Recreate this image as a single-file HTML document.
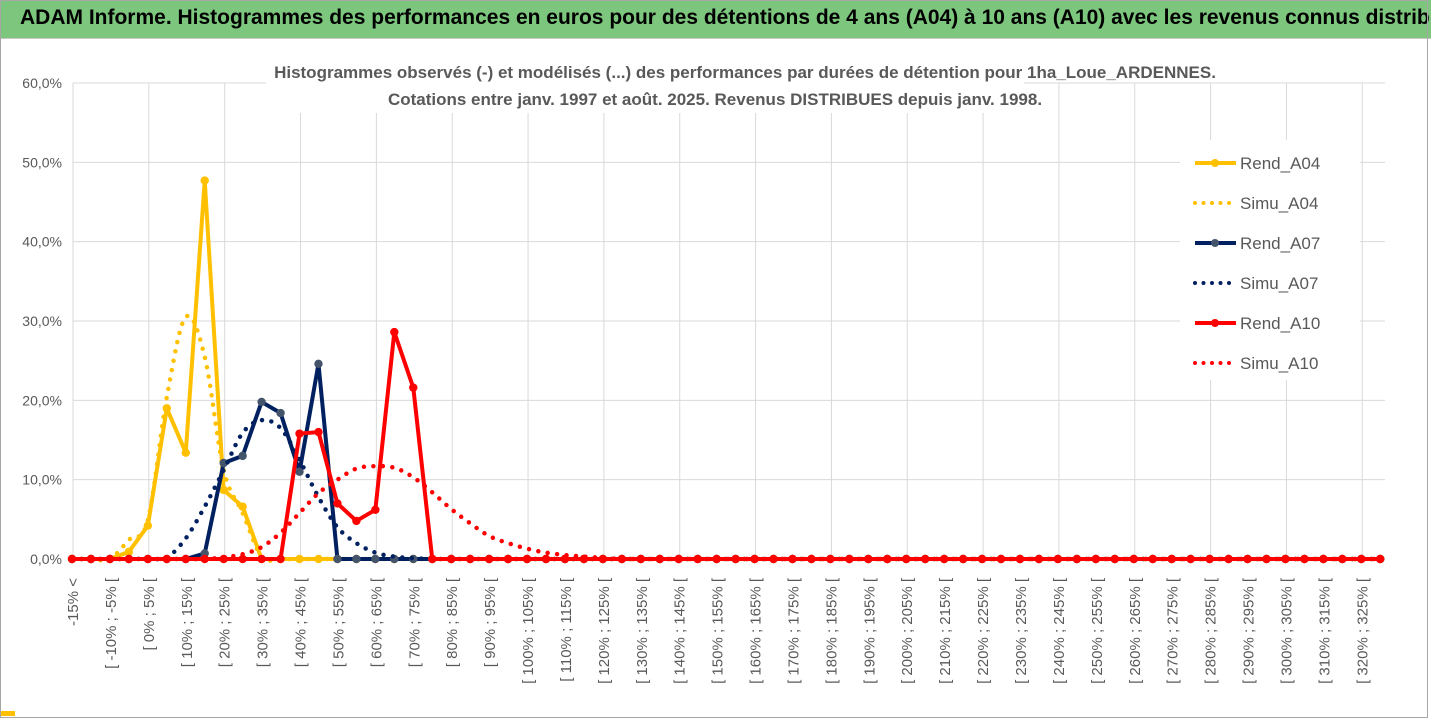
<!DOCTYPE html>
<html><head><meta charset="utf-8"><style>
body{margin:0;background:#fff;}
#wrap{position:relative;width:1431px;height:719px;overflow:hidden;background:#fff;font-family:"Liberation Sans Narrow","Liberation Sans",sans-serif;}
#bar{position:absolute;left:0;top:0;width:1431px;height:38px;background:#7dc67d;border-bottom:1px solid #c8c8c8;}
#bar span{position:absolute;left:20px;top:6px;font-size:21px;font-weight:bold;color:#000;white-space:nowrap;}
</style></head><body>
<div id="wrap">
<div id="bar"><span>ADAM Informe. Histogrammes des performances en euros pour des détentions de 4 ans (A04) à 10 ans (A10) avec les revenus connus distribués</span></div>
<svg id="chart" width="1431" height="719" style="position:absolute;left:0;top:0"></svg>
</div>
<script>
const rendA04=[0,0,0,0.9,4.2,19.0,13.4,47.7,8.7,6.6,0];
const simuA04=[0,0,0,2.4,4.9,20.4,30.5,25.5,11.2,5.8,0.3];
const rendA07=[0,0,0,0,0,0,0,0.7,12.1,13.0,19.8,18.4,11.0,24.6,0];
const simuA07=[0,0,0,0,0.05,0.2,2.6,6.6,11.2,15.9,17.5,16.5,12.5,7.8,4.0,2.0,0.8,0.3,0.1,0];
const rendA10=[0,0,0,0,0,0,0,0,0,0,0,0,15.8,16.0,7.0,4.8,6.2,28.6,21.6,0];
const simuA10=[0,0,0,0,0,0,0,0,0.2,0.6,1.5,3.3,5.8,8.3,10.0,11.4,11.7,11.5,10.3,8.4,6.3,4.5,2.9,2.0,1.3,0.8,0.5,0.3,0.15,0];
const yTicks=[0,10,20,30,40,50,60];
const NCAT=70;
function catLabel(i){if(i===0)return "-15% <";const a=(i-4)*5,b=(i-3)*5;return "[ "+a+"% ; "+b+"% [";}
const svg=document.getElementById('chart');const NS="http://www.w3.org/2000/svg";
const X=i=>72+i*18.96;const Y=v=>559-v*(476/60);
function mk(t,a,p){const e=document.createElementNS(NS,t);for(const k in a)e.setAttribute(k,a[k]);(p||svg).appendChild(e);return e;}
function full(arr){const r=[];for(let i=0;i<NCAT;i++)r.push(i<arr.length?arr[i]:0);return r;}
// gridlines
const grid=mk('g',{});


yTicks.forEach(t=>{mk('line',{x1:73,x2:1385,y1:Y(t),y2:Y(t),stroke:'#d9d9d9','stroke-width':1},grid);
const lb=mk('text',{x:62,y:Y(t)+5,'text-anchor':'end','font-size':14,fill:'#595959'});lb.textContent=t.toFixed(1).replace('.',',')+'%';

});
for(let i=0;i<NCAT;i+=4){mk('line',{x1:X(i)+1,x2:X(i)+1,y1:Y(60),y2:559,stroke:'#d9d9d9','stroke-width':1},grid);}
// x labels
for(let i=0;i<NCAT;i+=2){const tx=mk('text',{transform:`translate(${X(i)+6},578) rotate(-90)`,'text-anchor':'end','font-size':15,fill:'#595959'});tx.textContent=catLabel(i);

}
// subtitle bg
mk('rect',{x:266,y:55,width:758,height:58,fill:'#fff'});
const st1=mk('text',{x:745,y:78,'text-anchor':'middle','font-size':17,'font-weight':'bold',fill:'#595959'});st1.textContent="Histogrammes observés (-) et modélisés (...) des performances par durées de détention pour 1ha_Loue_ARDENNES.";


const st2=mk('text',{x:715,y:105,'text-anchor':'middle','font-size':17,'font-weight':'bold',fill:'#595959'});st2.textContent="Cotations entre janv. 1997 et août. 2025. Revenus DISTRIBUES depuis janv. 1998.";


function smooth(pts){let d=`M${pts[0][0]},${pts[0][1]}`;for(let i=0;i<pts.length-1;i++){const p0=pts[Math.max(i-1,0)],p1=pts[i],p2=pts[i+1],p3=pts[Math.min(i+2,pts.length-1)];
const c1=[p1[0]+(p2[0]-p0[0])/6,p1[1]+(p2[1]-p0[1])/6],c2=[p2[0]-(p3[0]-p1[0])/6,p2[1]-(p3[1]-p1[1])/6];d+=` C${c1[0]},${c1[1]} ${c2[0]},${c2[1]} ${p2[0]},${p2[1]}`;}return d;}
function solid(arr,color,mcolor,name){const g=mk('g',{});


const v=full(arr);mk('polyline',{points:v.map((y,i)=>X(i)+','+Y(y)).join(' '),fill:'none',stroke:color,'stroke-width':4,'stroke-linejoin':'round'},g);
v.forEach((y,i)=>{const c=mk('circle',{cx:X(i),cy:Y(y),r:4.2,fill:mcolor},g);

});}
function dotted(arr,color,name){const v=full(arr);const p=mk('path',{d:smooth(v.map((y,i)=>[X(i),Y(y)])),fill:'none',stroke:color,'stroke-width':4.5,'stroke-linecap':'round','stroke-dasharray':'0 9.5'});

}
solid(rendA04,'#ffc000','#ffc000','rend-a04-line');
dotted(simuA04,'#ffc000','simu-a04-curve');
solid(rendA07,'#002060','#44546a','rend-a07-line');
dotted(simuA07,'#002060','simu-a07-curve');
solid(rendA10,'#ff0000','#ff0000','rend-a10-line');
dotted(simuA10,'#ff0000','simu-a10-curve');
// legend
mk('rect',{x:1180,y:140,width:180,height:240,fill:'#fff'});
const leg=[['Rend_A04','#ffc000','#ffc000',0],['Simu_A04','#ffc000',null,1],['Rend_A07','#002060','#44546a',0],['Simu_A07','#002060',null,1],['Rend_A10','#ff0000','#ff0000',0],['Simu_A10','#ff0000',null,1]];
leg.forEach((l,k)=>{const y=163+k*40;const g=mk('g',{});


if(l[3])mk('line',{x1:1195,x2:1236,y1:y,y2:y,stroke:l[1],'stroke-width':4,'stroke-linecap':'round','stroke-dasharray':'0 8.5'},g);
else{mk('line',{x1:1195,x2:1236,y1:y,y2:y,stroke:l[1],'stroke-width':4},g);mk('circle',{cx:1215,cy:y,r:4,fill:l[2]},g);}
const t=mk('text',{x:1240,y:y+6,'font-size':17,fill:'#595959'},g);t.textContent=l[0];});
// frame
mk('rect',{x:0.5,y:0.5,width:1427,height:717,fill:'none',stroke:'#a6a6a6','stroke-width':1});
mk('rect',{x:1,y:711,width:14,height:5,fill:'#ffc000'});
</script>
</body></html>
